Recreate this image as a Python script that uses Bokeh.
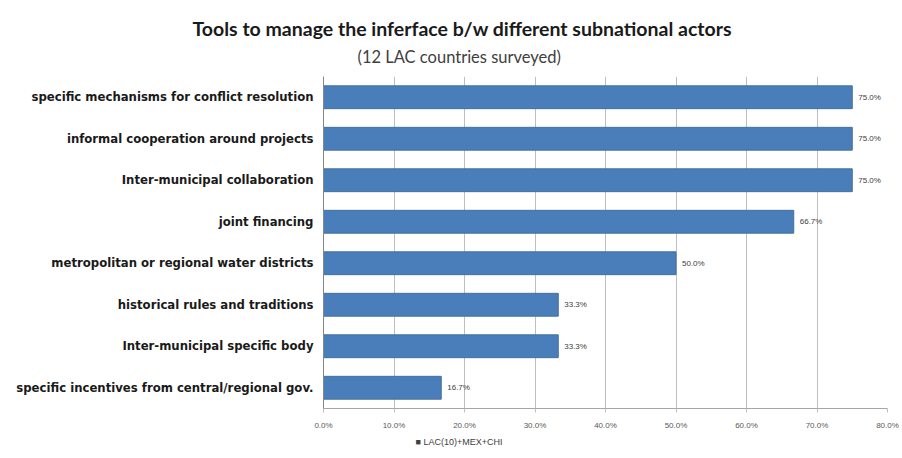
from bokeh.plotting import figure
from bokeh.models import ColumnDataSource, Title, Range1d, FactorRange, LabelSet, FixedTicker
from bokeh.core.properties import value
from bokeh.embed import file_html
from bokeh.resources import INLINE

categories = [
    "specific mechanisms for conflict resolution",
    "informal cooperation around projects",
    "Inter-municipal collaboration",
    "joint financing",
    "metropolitan or regional water districts",
    "historical rules and traditions",
    "Inter-municipal specific body",
    "specific incentives from central/regional gov.",
]
values = [75.0, 75.0, 75.0, 66.7, 50.0, 33.3, 33.3, 16.7]
series_name = "LAC(10)+MEX+CHI"
x_ticks = [0, 10, 20, 30, 40, 50, 60, 70, 80]

src = ColumnDataSource(dict(
    cat=categories,
    val=values,
    lbl=["%.1f%%" % v for v in values],
))

p = figure(width=900, height=456, output_backend="svg", toolbar_location=None,
           y_range=FactorRange(*reversed(categories)), x_range=Range1d(0, 80),
           min_border_left=323, min_border_right=13, min_border_top=76, min_border_bottom=48)

p.add_layout(Title(text="(12 LAC countries surveyed)", text_font="Lato", text_font_size="16.5px",
                   text_font_style="normal", text_color="#404040", align="left", offset=34,
                   vertical_align="top", standoff=15), "above")
p.add_layout(Title(text="Tools to manage the inferface b/w different subnational actors", text_font="Lato",
                   text_font_size="19.5px", text_font_style="bold", text_color="#1a1a1a", align="left",
                   offset=-131, standoff=0), "above")

r = p.hbar(y="cat", right="val", height=0.55, source=src, fill_color="#4a7ebb", line_color="#41719c", line_width=1)

labels = LabelSet(x="val", y="cat", text="lbl", source=src, x_offset=6, text_baseline="middle",
                  text_font=value("Liberation Sans"), text_font_size="8px", text_color="#404040")
p.add_layout(labels)

p.xaxis.ticker = FixedTicker(ticks=x_ticks)
p.xaxis.major_label_overrides = {t: "%.1f%%" % t for t in x_ticks}
p.xaxis.major_label_text_font = "Liberation Sans"
p.xaxis.major_label_text_font_size = "8px"
p.xaxis.major_label_text_color = "#595959"
p.xaxis.axis_line_color = "#a6a6a6"
p.xaxis.major_tick_line_color = "#bfbfbf"
p.xaxis.major_tick_in = 0
p.xaxis.major_tick_out = 4
p.xaxis.minor_tick_line_color = None
p.xaxis.major_label_standoff = 8

p.yaxis.major_label_text_font = "DejaVu Sans"
p.yaxis.major_label_text_font_size = "11.7px"
p.yaxis.major_label_text_font_style = "bold"
p.yaxis.major_label_text_color = "#1a1a1a"
p.yaxis.axis_line_color = "#868686"
p.yaxis.major_tick_line_color = None
p.yaxis.major_tick_in = 0
p.yaxis.major_tick_out = 0
p.yaxis.minor_tick_line_color = None
p.yaxis.major_label_standoff = 10

p.xgrid.grid_line_color = "#bfbfbf"
p.xgrid.ticker = FixedTicker(ticks=x_ticks)
p.ygrid.grid_line_color = None
p.outline_line_color = None

p.add_layout(Title(text="\u25a0 " + series_name, text_font="Liberation Sans", text_font_size="9px",
                   text_font_style="normal", text_color="#404040", align="left", offset=92,
                   standoff=4), "below")

open("out.html", "w").write(file_html(p, INLINE))
